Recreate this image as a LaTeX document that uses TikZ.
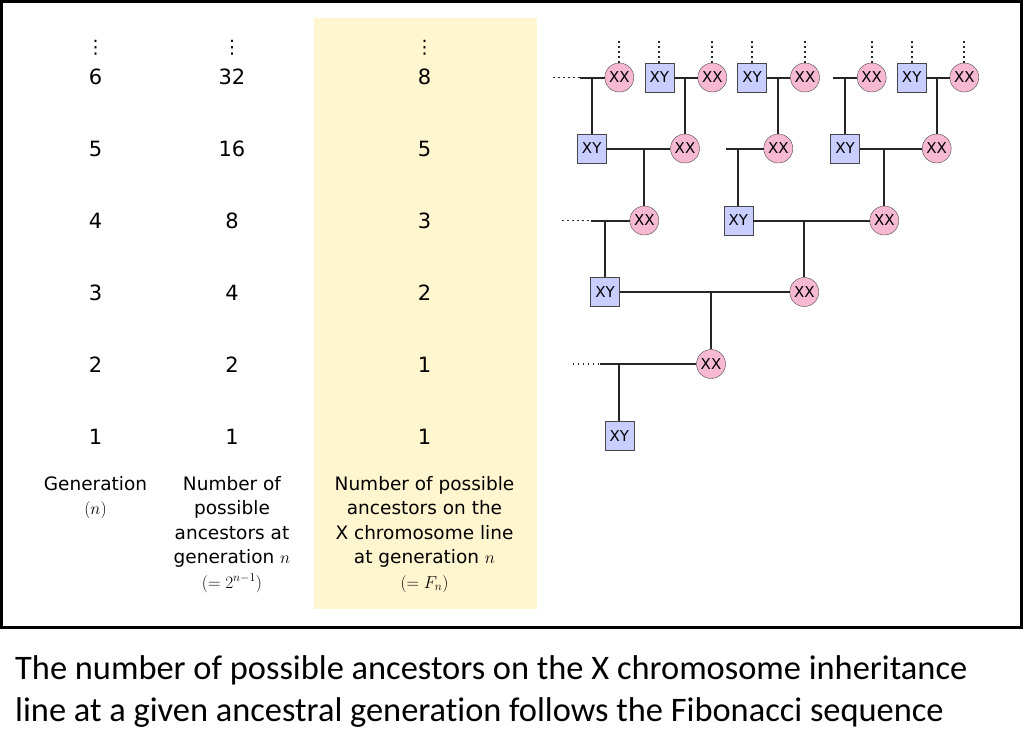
\documentclass[tikz,border=0pt]{standalone}
\usepackage{fontspec}
\setmainfont{DejaVu Sans}
\newfontfamily\capfont[RawFeature=-liga]{Carlito}
\definecolor{fibfill}{RGB}{255,245,206}
\definecolor{femfill}{RGB}{247,184,210}
\definecolor{malfill}{RGB}{200,206,255}
\definecolor{rim}{RGB}{70,70,70}
\tikzset{
  num/.style={inner sep=0pt, font=\fontsize{21}{24.5}\selectfont},
  etc/.style={inner sep=0pt, font=\fontsize{18.5}{24.5}\selectfont},
  lbl/.style={inner sep=0pt, anchor=north, align=center, font=\fontsize{18.5}{24.5}\selectfont},
  fem/.style={circle, draw=rim, fill=femfill, minimum size=29pt, inner sep=0pt, font=\fontsize{15}{16}\selectfont},
  mal/.style={rectangle, draw=rim, fill=malfill, minimum size=29pt, inner sep=0pt, font=\fontsize{15}{16}\selectfont},
  tie/.style={line width=2pt, draw=black!85},
  more/.style={line width=1.8pt, dash pattern=on 1.5pt off 3.5pt, draw=black!85}
}
\begin{document}
\begin{tikzpicture}[x=1pt,y=-1pt]
  \useasboundingbox (0,0) rectangle (1024,740);
  \fill[fibfill] (314,18) rectangle (537,609);
  \draw[line width=3pt] (1.5,1.5) rectangle (1021,627);
  % the three columns
  \foreach \g/\a/\f in {1/1/1,2/2/1,3/4/2,4/8/3,5/16/5,6/32/8}
    \path
      (95.5,{436.5-71.9*(\g-1)}) node[num] (g\g){\g}
      (232,{436.5-71.9*(\g-1)}) node[num] (a\g){\a}
      (424.5,{436.5-71.9*(\g-1)}) node[num] (f\g){\f};
  \foreach \c/\x in {g/95.5,a/232,f/424.5}
    \node[etc] (\c dots) at (\x,47.5) {⋮};
  \node[lbl] (glbl) at (95.5,476) {Generation\\$(n)$};
  \node[lbl] (albl) at (232,476) {Number of\\possible\\ancestors at\\generation $n$\\$(=2^{n-1})$};
  \node[lbl] (flbl) at (424.5,476) {Number of possible\\ancestors on the\\X chromosome line\\at generation $n$\\$(=F_n)$};
  % the family tree
  \draw
    (619.3,436) node[mal] (xy1){XY}
    (711,364) node[fem] (xx2){XX}
    (605,292) node[mal] (xy3){XY}
    (804.3,292) node[fem] (xx3){XX}
    (644.3,220.5) node[fem] (xx4a){XX}
    (738.3,220.5) node[mal] (xy4){XY}
    (884.3,220.5) node[fem] (xx4b){XX}
    (591.7,148.5) node[mal] (xy5a){XY}
    (685,148.5) node[fem] (xx5a){XX}
    (778.3,148.5) node[fem] (xx5b){XX}
    (845,148.5) node[mal] (xy5b){XY}
    (936.7,148.5) node[fem] (xx5c){XX}
    (619.3,77.5) node[fem] (xx6a){XX}
    (659.3,77.5) node[mal] (xy6a){XY}
    (712.3,77.5) node[fem] (xx6b){XX}
    (752,77.5) node[mal] (xy6b){XY}
    (805,77.5) node[fem] (xx6c){XX}
    (871.7,77.5) node[fem] (xx6d){XX}
    (911.7,77.5) node[mal] (xy6c){XY}
    (964.3,77.5) node[fem] (xx6e){XX};
  \coordinate (top) at (0,40);
  \coordinate (d2) at (572.7,364);
  \coordinate (e2) at (600,364);
  \coordinate (d4) at (562,220.5);
  \coordinate (e4) at (591,220.5);
  \coordinate (e5) at (726,148.5);
  \coordinate (d6) at (553,77.5);
  \coordinate (e6a) at (580,77.5);
  \coordinate (e6b) at (833,77.5);
  \coordinate (j2) at (xy1 |- xx2);
  \coordinate (j3) at (xx2 |- xy3);
  \coordinate (j4a) at (xy3 |- xx4a);
  \coordinate (j4b) at (xx3 |- xy4);
  \coordinate (j5a) at (xx4a |- xy5a);
  \coordinate (j5b) at (xy4 |- xx5b);
  \coordinate (j5c) at (xx4b |- xy5b);
  \coordinate (j6a) at (xy5a |- xx6a);
  \coordinate (j6b) at (xx5a |- xy6a);
  \coordinate (j6c) at (xx5b |- xy6b);
  \coordinate (j6d) at (xy5b |- xx6d);
  \coordinate (j6e) at (xx5c |- xy6c);
  \begin{scope}[tie]
    \draw (e2) to (xx2);
    \draw (j2) to (xy1);
    \draw (xy3) to (xx3);
    \draw (j3) to (xx2);
    \draw (e4) to (xx4a);
    \draw (j4a) to (xy3);
    \draw (xy4) to (xx4b);
    \draw (j4b) to (xx3);
    \draw (xy5a) to (xx5a);
    \draw (j5a) to (xx4a);
    \draw (e5) to (xx5b);
    \draw (j5b) to (xy4);
    \draw (xy5b) to (xx5c);
    \draw (j5c) to (xx4b);
    \draw (e6a) to (xx6a);
    \draw (j6a) to (xy5a);
    \draw (xy6a) to (xx6b);
    \draw (j6b) to (xx5a);
    \draw (xy6b) to (xx6c);
    \draw (j6c) to (xx5b);
    \draw (e6b) to (xx6d);
    \draw (j6d) to (xy5b);
    \draw (xy6c) to (xx6e);
    \draw (j6e) to (xx5c);
  \end{scope}
  \begin{scope}[more]
    \draw (d2) to (e2);
    \draw (d4) to (e4);
    \draw (d6) to (e6a);
    \foreach \n in {xx6a,xy6a,xx6b,xy6b,xx6c,xx6d,xy6c,xx6e}
      \draw (\n) to (\n |- top);
  \end{scope}
  % caption
  \node[inner sep=0pt, anchor=north west, align=left, font=\capfont\fontsize{34.4}{42.5}\selectfont] (cap) at (15,655)
    {The number of possible ancestors on the X chromosome inheritance\\line at a given ancestral generation follows the Fibonacci sequence};
\end{tikzpicture}
\end{document}
